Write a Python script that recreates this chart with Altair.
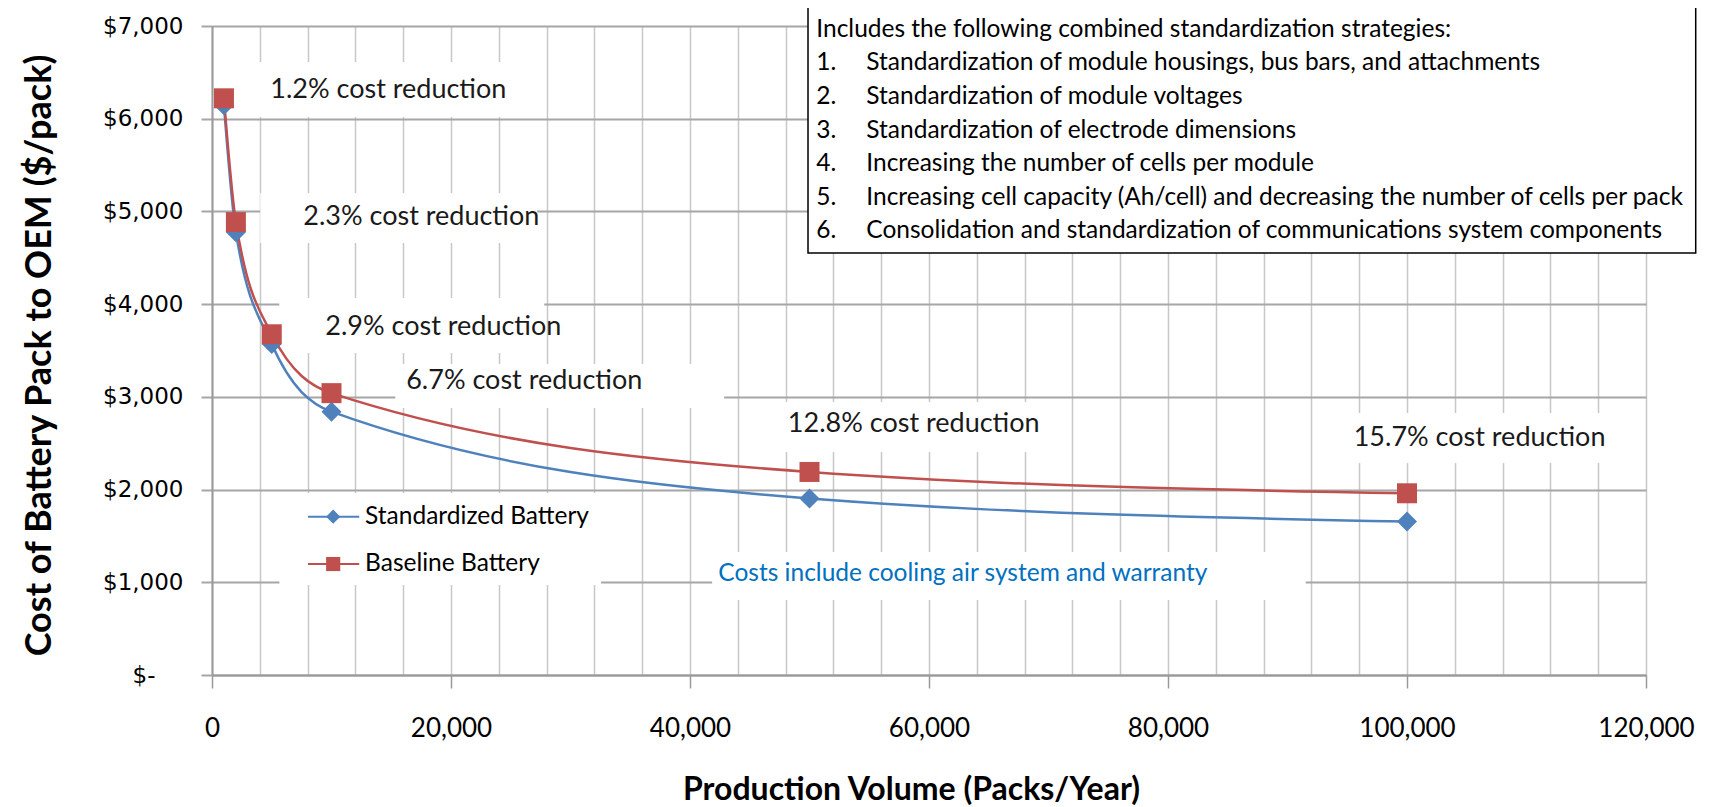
import altair as alt
import pandas as pd

# ---------------- data ----------------
volume = [1000, 2000, 5000, 10000, 50000, 100000]
baseline = [6220, 4885, 3675, 3040, 2190, 1960]
standardized = [6145, 4775, 3570, 2840, 1905, 1655]
series_names = ["Standardized Battery", "Baseline Battery"]
series_colors = ["#4F81BD", "#C0504D"]
series_shapes = ["diamond", "square"]

reduction_labels = ["1.2% cost reduction", "2.3% cost reduction", "2.9% cost reduction",
                    "6.7% cost reduction", "12.8% cost reduction", "15.7% cost reduction"]
reduction_x = [4876, 7637, 9477, 16250, 48190, 95540]
reduction_y = [6306, 4940, 3749, 3166, 2702, 2559]
# white label boxes behind the reduction labels (data units)
lbl_box_x = [1949, 4040, 5630, 15340, 46860, 94200]
lbl_box_x2 = [27041, 27210, 27800, 42860, 70360, 117870]
lbl_box_y = [6613, 5200, 4067, 3355, 2945, 2826]
lbl_box_y2 = [6019, 4660, 3474, 2880, 2406, 2287]

note_text = "Costs include cooling air system and warranty"

box_header = "Includes the following combined standardization strategies:"
box_items = [
    "Standardization of module housings, bus bars, and attachments",
    "Standardization of module voltages",
    "Standardization of electrode dimensions",
    "Increasing the number of cells per module",
    "Increasing cell capacity (Ah/cell) and decreasing the number of cells per pack",
    "Consolidation and standardization of communications system components",
]

x_ticks = list(range(0, 120001, 4000))
y_ticks = list(range(0, 7001, 1000))

# ---------------- tables ----------------
rows = []
for n, vals in zip(series_names, [standardized, baseline]):
    for v, c in zip(volume, vals):
        rows.append({"series": n, "volume": v, "cost": c})
df = pd.DataFrame(rows)

ann = pd.DataFrame({"label": reduction_labels, "x": reduction_x, "y": reduction_y})

white_boxes = pd.DataFrame({
    "x": lbl_box_x + [5640, 41850],
    "x2": lbl_box_x2 + [32560, 91520],
    "y": lbl_box_y + [1963, 1327],
    "y2": lbl_box_y2 + [971, 809],
})

FONT = "Lato"
xs = alt.Scale(domain=[0, 120000], nice=False, zero=False)
ys = alt.Scale(domain=[0, 7000], nice=False, zero=False)

x_axis = alt.Axis(
    values=x_ticks, title="Production Volume (Packs/Year)",
    labelExpr="datum.value % 20000 === 0 ? format(datum.value, ',') : ''",
    labelOverlap=False, labelFlush=False,
    labelFont=FONT, labelFontSize=26, labelColor="#000000", labelPadding=27,
    grid=True, gridColor="#C8C8C8", gridWidth=1.5,
    tickSize=13, tickColor="#9A9A9A", tickWidth=1.5,
    tickOpacity={"condition": {"test": "datum.value % 20000 === 0", "value": 1}, "value": 0},
    domainColor="#9A9A9A", domainWidth=2,
    titleFont=FONT, titleFontSize=32, titleFontWeight="bold", titleColor="#000000",
    titleX=699, titleY=114, titleBaseline="middle", titleAlign="center",
)
y_axis = alt.Axis(
    values=y_ticks, title="Cost of Battery Pack to OEM ($/pack)",
    labelExpr="datum.value === 0 ? '$-' : '$' + format(datum.value, ',')",
    labelFont="DejaVu Sans", labelFontSize=23, labelColor="#000000",
    labelPadding={"condition": {"test": "datum.value === 0", "value": 46}, "value": 18},
    grid=True, gridColor="#A6A6A6", gridWidth=2,
    tickSize=11, tickColor="#A6A6A6", tickWidth=2,
    domainColor="#9A9A9A", domainWidth=2,
    titleFont=FONT, titleFontSize=36, titleFontWeight="bold", titleColor="#000000",
    titleX=-173, titleY=329, titleBaseline="middle", titleAlign="center", titleAngle=-90,
)

color_scale = alt.Scale(domain=series_names, range=series_colors)
shape_scale = alt.Scale(domain=series_names, range=series_shapes)

# white backgrounds of text boxes
bg = alt.Chart(white_boxes).mark_rect(fill="white", stroke=None).encode(
    x=alt.X("x:Q", scale=xs, axis=x_axis),
    x2="x2:Q",
    y=alt.Y("y:Q", scale=ys, axis=y_axis),
    y2="y2:Q",
)

lines = alt.Chart(df).mark_line(interpolate="monotone", strokeWidth=2.5).encode(
    x=alt.X("volume:Q", scale=xs),
    y=alt.Y("cost:Q", scale=ys),
    color=alt.Color("series:N", scale=color_scale, legend=None),
    order=alt.Order("volume:Q"),
)

points = alt.Chart(df).mark_point(filled=True, opacity=1, size=400).encode(
    x=alt.X("volume:Q", scale=xs),
    y=alt.Y("cost:Q", scale=ys),
    color=alt.Color("series:N", scale=color_scale, legend=None),
    shape=alt.Shape("series:N", scale=shape_scale, legend=None),
)

ann_text = alt.Chart(ann).mark_text(align="left", baseline="middle", font=FONT,
                                    fontSize=27, color="#1a1a1a").encode(
    x=alt.X("x:Q", scale=xs), y=alt.Y("y:Q", scale=ys), text="label:N")

note = alt.Chart(pd.DataFrame({"t": [note_text], "x": [42370], "y": [1084]})).mark_text(
    align="left", baseline="middle", font=FONT, fontSize=24.5, color="#0070C0").encode(
    x=alt.X("x:Q", scale=xs), y=alt.Y("y:Q", scale=ys), text="t:N")

# manual legend
leg = pd.DataFrame({
    "series": series_names,
    "x1": [8030, 8030], "x2": [12320, 12320], "xm": [10140, 10140], "xt": [12810, 12810],
    "y": [1708, 1197],
})
leg_line = alt.Chart(leg).mark_rule(strokeWidth=2).encode(
    x=alt.X("x1:Q", scale=xs), x2="x2:Q", y=alt.Y("y:Q", scale=ys),
    color=alt.Color("series:N", scale=color_scale, legend=None))
leg_pt = alt.Chart(leg).mark_point(filled=True, opacity=1, size=200).encode(
    x=alt.X("xm:Q", scale=xs), y=alt.Y("y:Q", scale=ys),
    color=alt.Color("series:N", scale=color_scale, legend=None),
    shape=alt.Shape("series:N", scale=shape_scale, legend=None))
leg_txt = alt.Chart(leg).mark_text(align="left", baseline="middle", font=FONT,
                                   fontSize=24.5, color="#000000").encode(
    x=alt.X("xt:Q", scale=xs), y=alt.Y("y:Q", scale=ys), text="series:N")

# strategies box
box = alt.Chart(pd.DataFrame({"x": [49875], "x2": [124160], "y": [7206], "y2": [4552]})).mark_rect(
    fill="white", stroke="black", strokeWidth=1.5).encode(
    x=alt.X("x:Q", scale=xs), x2="x2:Q", y=alt.Y("y:Q", scale=ys), y2="y2:Q")

step = 362.5
top_y = 6960
box_rows = [{"num": "", "txt": box_header, "y": top_y}]
for i, t in enumerate(box_items):
    box_rows.append({"num": f"{i + 1}.", "txt": t, "y": top_y - (i + 1) * step})
box_df = pd.DataFrame(box_rows)
BOX_FS = 24.5
box_hdr = alt.Chart(box_df.iloc[:1]).mark_text(align="left", baseline="middle", font=FONT,
                                               fontSize=BOX_FS, color="#000000").encode(
    x=alt.value(816 - 211.7), y=alt.Y("y:Q", scale=ys), text="txt:N")
box_num = alt.Chart(box_df.iloc[1:]).mark_text(align="left", baseline="middle", font=FONT,
                                               fontSize=BOX_FS, color="#000000").encode(
    x=alt.value(816 - 211.7), y=alt.Y("y:Q", scale=ys), text="num:N")
box_txt = alt.Chart(box_df.iloc[1:]).mark_text(align="left", baseline="middle", font=FONT,
                                               fontSize=BOX_FS, color="#000000").encode(
    x=alt.value(866 - 211.7), y=alt.Y("y:Q", scale=ys), text="txt:N")

chart = alt.layer(
    bg, lines, points, ann_text, note, leg_line, leg_pt, leg_txt, box, box_hdr, box_num, box_txt
).properties(
    width=1434, height=649,
    autosize=alt.AutoSizeParams(type="none"),
    padding={"left": 204, "top": 18, "right": 70, "bottom": 130},
).configure_view(stroke=None).configure(background="white")

chart.save("out.html", embed_options={"renderer": "svg", "actions": False})
